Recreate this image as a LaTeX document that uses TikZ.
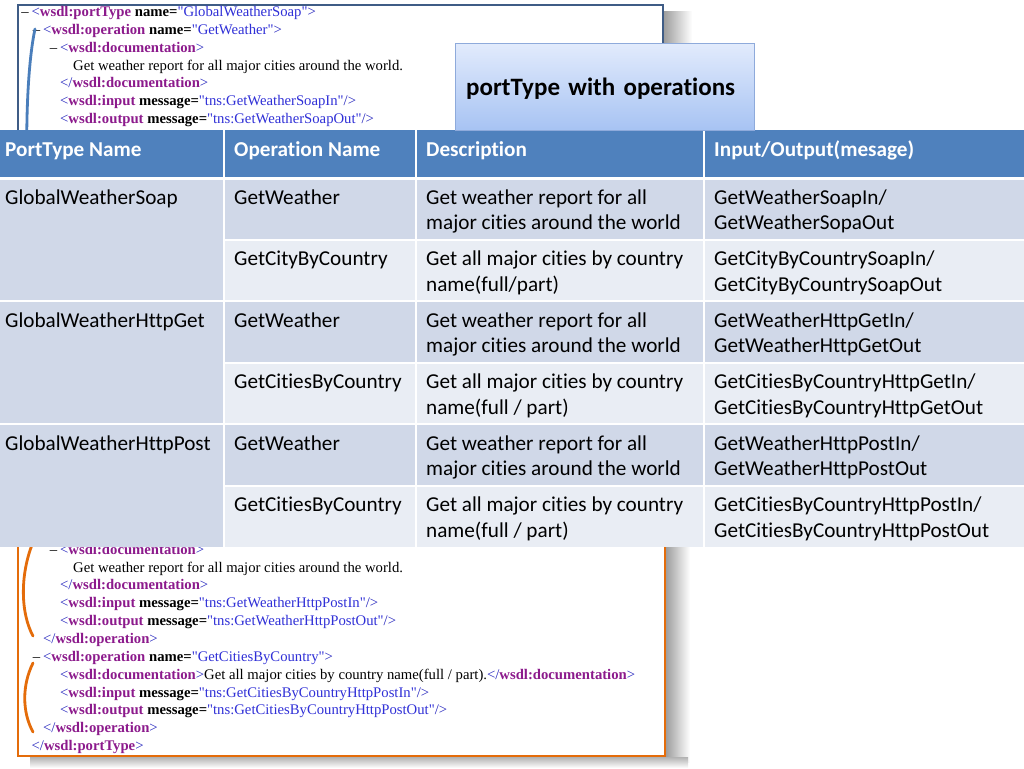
\documentclass[tikz,border=0pt]{standalone}
\usepackage{fontspec}
\setmainfont{Carlito}[Ligatures={TeX,NoCommon}]
\newfontfamily\codefont{Liberation Serif}

\definecolor{hdrblue}{HTML}{4F81BD}
\definecolor{rowdark}{HTML}{D0D8E8}
\definecolor{rowlight}{HTML}{E9EDF4}
\definecolor{panelblue}{HTML}{3F5C86}
\definecolor{panelorange}{HTML}{E46C0A}
\definecolor{bracketblue}{HTML}{4A7EBB}
\definecolor{calloutedge}{HTML}{8EAADB}
\definecolor{callouttop}{HTML}{E2EBFC}
\definecolor{calloutbottom}{HTML}{A7C3F3}
\definecolor{xmltag}{RGB}{140,26,140}
\definecolor{xmlmark}{RGB}{38,38,190}
\definecolor{xmlval}{RGB}{48,48,215}

\tikzstyle{code line} = [anchor=base west, inner sep=0pt, font=\codefont\fontsize{14.7}{17}\selectfont]
\tikzstyle{head text} = [anchor=base west, inner sep=0pt, text=white, font=\bfseries\fontsize{21.2}{25.5}\selectfont]
\tikzstyle{cell text} = [anchor=north west, inner sep=0pt, align=left, font=\fontsize{21.2}{25.5}\selectfont]
\tikzstyle{callout}   = [anchor=north west, draw=calloutedge, top color=callouttop, bottom color=calloutbottom,
                         minimum width=299pt, minimum height=87pt, text width=277pt, inner xsep=11pt,
                         text height=24pt, text depth=6pt,
                         align=left, font=\bfseries\fontsize{25}{30}\selectfont]
\tikzstyle{bracket}   = [line width=2.8pt, line cap=round]

\newcommand{\wopen}[1]{\textcolor{xmlmark}{<}\textcolor{xmltag}{\textbf{#1}}}
\newcommand{\wclose}[1]{\textcolor{xmlmark}{</}\textcolor{xmltag}{\textbf{#1}}\textcolor{xmlmark}{>}}
\newcommand{\wattr}[2]{ \textbf{#1=}\textcolor{xmlval}{"#2"}}
\newcommand{\wend}{\textcolor{xmlmark}{>}}
\newcommand{\wshut}{\textcolor{xmlmark}{/>}}
\newcommand{\wdash}{\llap{\textendash\hspace{3pt}}}

\begin{document}
\begin{tikzpicture}[x=1pt, y=-1pt]
\useasboundingbox (0,0) rectangle (1024,768);

    % code panels with their shadows
    \shade[left color=black!38, right color=white] (664,12) rectangle (692,135);
    \fill[white] (18,5) rectangle (663,140);
    \draw[panelblue, line width=2.5pt] (18,140) -- (18,5) -- (663,5) -- (663,140);

    \shade[left color=black!38, right color=white] (666,530) rectangle (690,762);
    \shade[top color=black!30, bottom color=white] (30,757) rectangle (688,768);
    \fill[white] (18,530) rectangle (665,756);
    \draw[panelorange, line width=2.5pt] (18,530) -- (18,756) -- (665,756) -- (665,530);

    \node[code line] (t1) at (31.5,16.7)  {\wdash\wopen{wsdl:portType}\wattr{name}{GlobalWeatherSoap}\wend};
    \node[code line] (t2) at (43,34.5)    {\wdash\wopen{wsdl:operation}\wattr{name}{GetWeather}\wend};
    \node[code line] (t3) at (60,52.3)    {\wdash\wopen{wsdl:documentation}\wend};
    \node[code line] (t4) at (73,70.1)    {Get weather report for all major cities around the world.};
    \node[code line] (t5) at (60,87.9)    {\wclose{wsdl:documentation}};
    \node[code line] (t6) at (60,105.7)   {\wopen{wsdl:input}\wattr{message}{tns:GetWeatherSoapIn}\wshut};
    \node[code line] (t7) at (60,123.5)   {\wopen{wsdl:output}\wattr{message}{tns:GetWeatherSoapOut}\wshut};

    \node[code line] (b1)  at (60,554.2)  {\wdash\wopen{wsdl:documentation}\wend};
    \node[code line] (b2)  at (73,572.0)  {Get weather report for all major cities around the world.};
    \node[code line] (b3)  at (60,589.9)  {\wclose{wsdl:documentation}};
    \node[code line] (b4)  at (60,607.7)  {\wopen{wsdl:input}\wattr{message}{tns:GetWeatherHttpPostIn}\wshut};
    \node[code line] (b5)  at (60,625.6)  {\wopen{wsdl:output}\wattr{message}{tns:GetWeatherHttpPostOut}\wshut};
    \node[code line] (b6)  at (43,643.4)  {\wclose{wsdl:operation}};
    \node[code line] (b7)  at (43,661.3)  {\wdash\wopen{wsdl:operation}\wattr{name}{GetCitiesByCountry}\wend};
    \node[code line] (b8)  at (60,679.1)  {\wopen{wsdl:documentation}\wend Get all major cities by country name(full / part).\wclose{wsdl:documentation}};
    \node[code line] (b9)  at (60,697.0)  {\wopen{wsdl:input}\wattr{message}{tns:GetCitiesByCountryHttpPostIn}\wshut};
    \node[code line] (b10) at (60,714.8)  {\wopen{wsdl:output}\wattr{message}{tns:GetCitiesByCountryHttpPostOut}\wshut};
    \node[code line] (b11) at (43,732.7)  {\wclose{wsdl:operation}};
    \node[code line] (b12) at (31.5,750.5) {\wclose{wsdl:portType}};

    % brackets beside the operations
    \draw[bracket, bracketblue]  (35,29) .. controls (24,80) and (24,200) .. (35,260);
    \draw[bracket, panelorange]  (34,540) .. controls (20,572) and (20,612) .. (33,636);
    \draw[bracket, panelorange]  (33,663) .. controls (22,685) and (22,712) .. (33,732);

    % table
    \fill[hdrblue]  (0,129.5) rectangle (1024,178);
    \fill[rowdark]  (0,178)   rectangle (1024,239.5);
    \fill[rowlight] (0,239.5) rectangle (1024,301);
    \fill[rowdark]  (0,301)   rectangle (1024,362.5);
    \fill[rowlight] (0,362.5) rectangle (1024,424);
    \fill[rowdark]  (0,424)   rectangle (1024,485.5);
    \fill[rowlight] (0,485.5) rectangle (1024,547);
    \fill[rowdark]  (0,178)   rectangle (224,547);

    \draw[white, line width=3pt] (0,178) -- (1024,178);
    \draw[white, line width=2pt] (0,301) -- (1024,301);
    \draw[white, line width=2pt] (0,424) -- (1024,424);
    \draw[white, line width=2pt] (224,239.5) -- (1024,239.5);
    \draw[white, line width=2pt] (224,362.5) -- (1024,362.5);
    \draw[white, line width=2pt] (224,485.5) -- (1024,485.5);
    \draw[white, line width=2pt] (224,129.5) -- (224,547);
    \draw[white, line width=2pt] (416,129.5) -- (416,547);
    \draw[white, line width=2pt] (704,129.5) -- (704,547);

    \node[head text] (hport) at (5,156)   {PortType Name};
    \node[head text] (hop)   at (234,156) {Operation Name};
    \node[head text] (hdesc) at (426,156) {Description};
    \node[head text] (hio)   at (714,156) {Input/Output(mesage)};

    \node[cell text] (soap)    at (5,186.2)   {\strut GlobalWeatherSoap};
    \node[cell text] (soapop1) at (234,186.2) {\strut GetWeather};
    \node[cell text] (soapds1) at (426,186.2) {\strut Get weather report for all\\major cities around the world};
    \node[cell text] (soapio1) at (714,186.2) {\strut GetWeatherSoapIn/\\GetWeatherSopaOut};
    \node[cell text] (soapop2) at (234,247.7) {\strut GetCityByCountry};
    \node[cell text] (soapds2) at (426,247.7) {\strut Get all major cities by country\\name(full/part)};
    \node[cell text] (soapio2) at (714,247.7) {\strut GetCityByCountrySoapIn/\\GetCityByCountrySoapOut};

    \node[cell text] (get)     at (5,309.2)   {\strut GlobalWeatherHttpGet};
    \node[cell text] (getop1)  at (234,309.2) {\strut GetWeather};
    \node[cell text] (getds1)  at (426,309.2) {\strut Get weather report for all\\major cities around the world};
    \node[cell text] (getio1)  at (714,309.2) {\strut GetWeatherHttpGetIn/\\GetWeatherHttpGetOut};
    \node[cell text] (getop2)  at (234,370.7) {\strut GetCitiesByCountry};
    \node[cell text] (getds2)  at (426,370.7) {\strut Get all major cities by country\\name(full / part)};
    \node[cell text] (getio2)  at (714,370.7) {\strut GetCitiesByCountryHttpGetIn/\\GetCitiesByCountryHttpGetOut};

    \node[cell text] (post)    at (5,432.2)   {\strut GlobalWeatherHttpPost};
    \node[cell text] (postop1) at (234,432.2) {\strut GetWeather};
    \node[cell text] (postds1) at (426,432.2) {\strut Get weather report for all\\major cities around the world};
    \node[cell text] (postio1) at (714,432.2) {\strut GetWeatherHttpPostIn/\\GetWeatherHttpPostOut};
    \node[cell text] (postop2) at (234,493.7) {\strut GetCitiesByCountry};
    \node[cell text] (postds2) at (426,493.7) {\strut Get all major cities by country\\name(full / part)};
    \node[cell text] (postio2) at (714,493.7) {\strut GetCitiesByCountryHttpPostIn/\\GetCitiesByCountryHttpPostOut};

    % caption box over the code
    \node[callout] (caption) at (455,43) {portType with operations};

\end{tikzpicture}
\end{document}
